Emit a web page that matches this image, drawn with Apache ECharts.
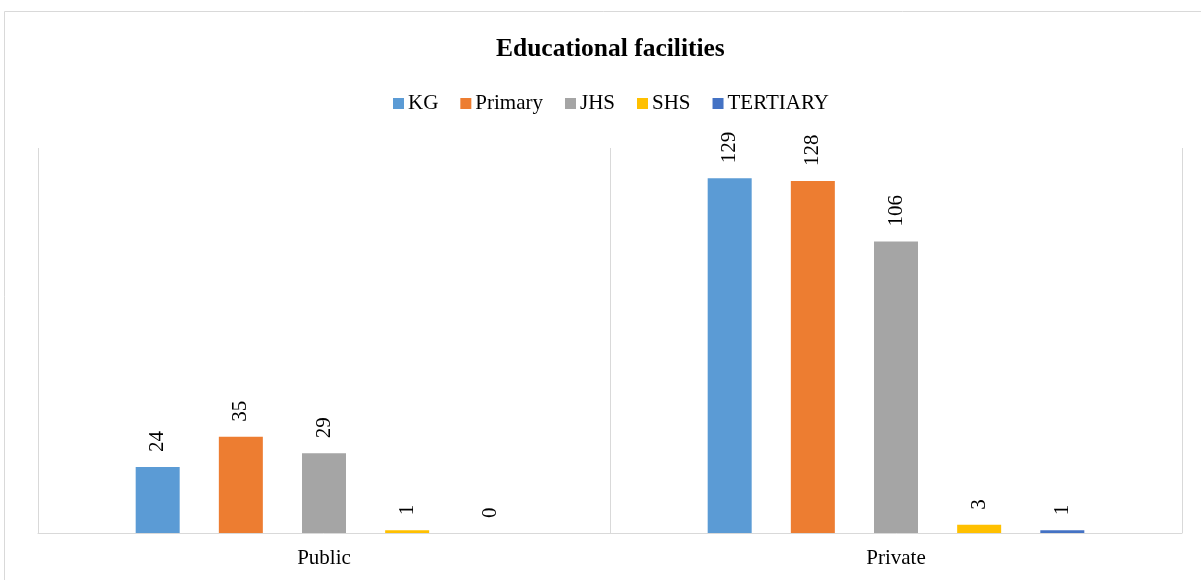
<!DOCTYPE html>
<html>
<head>
<meta charset="utf-8">
<script src="https://cdn.jsdelivr.net/npm/echarts@6/dist/echarts.min.js"></script>
<style>
  html, body { margin: 0; padding: 0; background: #fff; }
  #chart { width: 1201px; height: 580px; }
</style>
</head>
<body>
<div id="chart"></div>
<script>
// Ownership categories and counts of facilities per education level
const categories = ['Public', 'Private'];
const seriesNames = ['KG', 'Primary', 'JHS', 'SHS', 'TERTIARY'];
const kg = [24, 129];
const primary = [35, 128];
const jhs = [29, 106];
const shs = [1, 3];
const tertiary = [0, 1];
const seriesValues = [kg, primary, jhs, shs, tertiary];
const colors = ['#5B9BD5', '#ED7D31', '#A5A5A5', '#FFC000', '#4472C4'];

const FONT = '"Liberation Serif", "Times New Roman", serif';

const chart = echarts.init(document.getElementById('chart'), null, { renderer: 'canvas' });

chart.setOption({
  animation: false,
  backgroundColor: '#ffffff',
  color: colors,
  textStyle: { fontFamily: FONT },
  title: {
    text: 'Educational facilities',
    left: 491,
    top: 31,
    textStyle: { fontFamily: FONT, fontSize: 25.5, fontWeight: 'bold', color: '#000' }
  },
  legend: {
    top: 88,
    left: 388,
    icon: 'rect',
    itemWidth: 11,
    itemHeight: 11,
    itemGap: 22,
    textStyle: { fontFamily: FONT, fontSize: 21, color: '#000', padding: [0, 0, 0, -1] },
    data: seriesNames
  },
  graphic: [{
    type: 'rect',
    shape: { x: 4.5, y: 11.5, width: 1400, height: 800 },
    style: { fill: 'none', stroke: '#d9d9d9', lineWidth: 1 },
    silent: true
  }],
  grid: { left: 38, right: 19, top: 148, bottom: 47 },
  xAxis: {
    type: 'category',
    data: categories,
    axisLine: { show: true, lineStyle: { color: '#d9d9d9', width: 1 } },
    axisTick: { show: false },
    splitLine: { show: true, lineStyle: { color: '#d9d9d9', width: 1 } },
    axisLabel: { fontFamily: FONT, fontSize: 21, color: '#000', margin: 15 }
  },
  yAxis: {
    type: 'value',
    min: 0,
    max: 140,
    show: false,
    splitLine: { show: false }
  },
  series: seriesNames.map((name, i) => ({
    name: name,
    type: 'bar',
    data: seriesValues[i],
    barWidth: 44,
    barGap: '89%',
    itemStyle: { color: colors[i] },
    label: {
      show: true,
      position: 'top',
      rotate: 90,
      align: 'left',
      verticalAlign: 'middle',
      distance: 15,
      fontFamily: FONT,
      fontSize: 21,
      color: '#000'
    }
  }))
});
</script>
</body>
</html>
